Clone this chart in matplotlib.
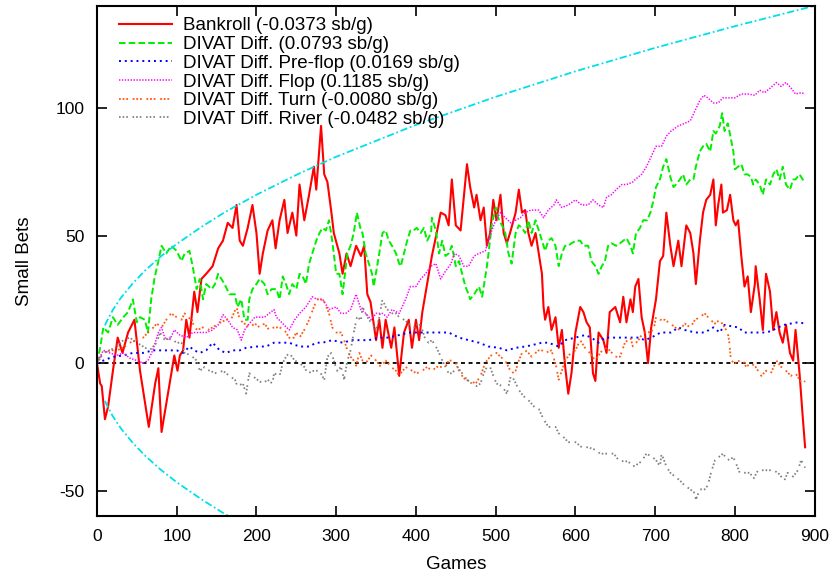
import matplotlib
matplotlib.use("Agg")
import matplotlib.pyplot as plt

plt.rcParams['font.family'] = ['Liberation Sans', 'DejaVu Sans']
plt.rcParams['axes.unicode_minus'] = False

# cumulative winnings, small bets, sampled along the match
bank_g = [0, 4, 6, 10, 14, 20, 26, 32, 39, 47, 54, 60, 65, 73, 77, 81, 89, 97, 101, 104,
          108, 112, 116, 122, 126, 131, 137, 145, 152, 158, 164, 170, 175, 179, 183, 189, 195, 200, 204, 208,
          214, 220, 224, 229, 235, 239, 245, 250, 254, 260, 266, 272, 275, 281, 285, 289, 294, 297, 304, 308,
          313, 318, 325, 331, 335, 339, 343, 350, 354, 358, 362, 369, 373, 379, 385, 391, 395, 400, 404, 408,
          414, 420, 426, 431, 437, 441, 445, 450, 456, 460, 464, 468, 473, 476, 481, 485, 489, 493, 497, 501,
          506, 510, 514, 518, 525, 529, 533, 537, 541, 545, 550, 554, 558, 560, 562, 566, 570, 575, 579, 583,
          587, 591, 595, 600, 606, 610, 614, 618, 622, 625, 629, 635, 639, 643, 650, 656, 660, 664, 669, 672,
          675, 679, 683, 687, 691, 695, 701, 706, 710, 714, 719, 723, 729, 733, 739, 744, 748, 751, 756, 760,
          764, 769, 773, 776, 779, 783, 785, 790, 794, 798, 801, 804, 808, 812, 816, 820, 825, 826, 831, 835,
          839, 844, 848, 852, 856, 860, 864, 869, 873, 876, 881, 885, 888]
bank_v = [0, -8, -9, -22, -17, -3, 10, 4, 12, 17, -3, -15, -25, -8, -2, -27, -12, 3, -3, 3,
          5, 17, 10, 28, 20, 33, 35, 38, 45, 48, 55, 53, 62, 48, 46, 53, 62, 51, 35, 43,
          52, 56, 45, 56, 64, 51, 59, 50, 70, 56, 66, 77, 68, 93, 74, 71, 59, 51, 43, 35,
          43, 38, 46, 42, 46, 27, 24, 9, 17, 6, 17, 6, 14, -5, 12, 17, 6, 17, 9, 20,
          31, 42, 51, 59, 58, 54, 72, 54, 52, 65, 78, 69, 61, 66, 56, 61, 46, 51, 64, 56,
          66, 51, 47, 51, 59, 68, 59, 60, 51, 46, 51, 43, 35, 22, 17, 22, 13, 18, 6, 13,
          -1, -12, -4, 12, 22, 20, 16, 14, -4, -7, 12, 9, 4, 20, 22, 16, 26, 16, 25, 20,
          30, 33, 18, 12, 0, 14, 25, 40, 42, 59, 46, 38, 48, 38, 54, 51, 43, 31, 48, 59,
          64, 66, 72, 54, 62, 70, 59, 60, 66, 56, 54, 56, 42, 30, 34, 20, 31, 38, 25, 13,
          35, 28, 13, 20, 12, 8, 15, 4, 1, 13, -4, -21, -33]

divat_g = [0, 4, 8, 14, 20, 26, 33, 39, 45, 50, 54, 60, 64, 68, 72, 77, 81, 87, 93, 100,
           106, 110, 116, 120, 125, 129, 133, 137, 144, 148, 152, 156, 160, 166, 173, 176, 181, 185, 189, 191,
           195, 200, 204, 210, 214, 219, 225, 229, 233, 237, 241, 245, 250, 254, 258, 262, 266, 270, 275, 279,
           283, 287, 291, 295, 300, 304, 308, 314, 318, 322, 326, 331, 333, 337, 341, 345, 347, 354, 358, 362,
           366, 370, 375, 379, 381, 385, 389, 393, 397, 401, 406, 410, 414, 419, 420, 425, 429, 433, 437, 441,
           445, 450, 454, 458, 462, 466, 468, 473, 479, 483, 489, 491, 495, 500, 504, 508, 512, 516, 520, 525,
           529, 533, 537, 541, 545, 550, 554, 558, 562, 566, 570, 575, 579, 583, 587, 591, 595, 601, 606, 610,
           616, 620, 625, 629, 633, 637, 641, 645, 651, 656, 660, 664, 669, 672, 676, 681, 685, 690, 694, 698,
           701, 706, 710, 714, 719, 723, 726, 731, 735, 739, 744, 748, 751, 756, 760, 764, 769, 773, 776, 781,
           784, 787, 791, 793, 798, 800, 804, 808, 812, 816, 820, 823, 826, 831, 835, 839, 844, 848, 852, 856,
           860, 864, 869, 873, 876, 881, 885, 888]
divat_v = [0, 6, 14, 12, 18, 15, 18, 20, 25, 16, 18, 17, 12, 25, 33, 40, 46, 43, 46, 44,
           40, 43, 44, 38, 29, 33, 25, 31, 29, 31, 35, 33, 31, 27, 27, 22, 25, 17, 17, 25,
           29, 31, 33, 31, 27, 29, 29, 25, 34, 31, 27, 31, 29, 35, 34, 31, 39, 43, 48, 51,
           53, 52, 56, 48, 35, 35, 27, 43, 46, 51, 59, 52, 51, 43, 39, 35, 30, 43, 51, 52,
           48, 46, 43, 39, 38, 43, 48, 52, 52, 53, 51, 53, 48, 51, 57, 52, 43, 48, 42, 43,
           46, 38, 40, 35, 30, 27, 25, 27, 30, 26, 38, 43, 54, 61, 56, 54, 51, 43, 39, 51,
           54, 53, 51, 56, 51, 56, 52, 48, 44, 48, 49, 46, 38, 43, 46, 46, 47, 48, 48, 46,
           46, 40, 38, 35, 38, 40, 46, 47, 46, 47, 48, 49, 46, 43, 51, 53, 56, 56, 59, 64,
           69, 72, 77, 80, 73, 69, 70, 72, 74, 70, 72, 72, 77, 83, 85, 86, 83, 91, 90, 93,
           98, 91, 94, 91, 83, 76, 77, 78, 74, 74, 73, 70, 72, 70, 66, 72, 70, 74, 76, 72,
           77, 70, 68, 72, 72, 74, 72, 71]

pre_g = [0, 8, 20, 33, 45, 58, 70, 79, 91, 100, 108, 116, 122, 129, 137, 145, 154, 162, 170, 179,
         187, 200, 212, 222, 229, 241, 254, 266, 275, 283, 295, 308, 320, 331, 341, 354, 366, 379, 391, 404,
         416, 429, 441, 454, 466, 479, 491, 504, 514, 525, 537, 545, 558, 566, 579, 587, 600, 612, 620, 629,
         637, 650, 662, 672, 679, 687, 695, 707, 720, 729, 737, 750, 762, 773, 781, 787, 795, 804, 812, 820,
         829, 837, 845, 854, 862, 870, 879, 888]
pre_v = [0, 1, 2.5, 3, 4, 4, 5, 5, 5, 5, 4, 6.5, 5, 4, 5, 8, 5, 4, 5, 5,
         6, 6.5, 6.5, 8, 8, 8, 6.5, 6.5, 8, 8, 9, 8, 9, 9, 9, 10, 10, 11, 12, 12,
         12, 12, 12, 10, 9, 8, 6.5, 6, 5, 6, 6.5, 7, 8, 8, 6.5, 9, 10, 11, 10, 8,
         10, 10, 10, 10, 10, 9, 10, 12, 12, 14, 13, 12, 12, 14, 12, 15, 14.5, 14, 12, 12,
         12, 12, 12.5, 14, 15, 15.5, 16, 15.5]

flop_g = [0, 8, 16, 25, 33, 41, 50, 58, 64, 70, 77, 81, 85, 91, 97, 104, 112, 120, 129, 137,
          145, 152, 158, 164, 170, 176, 181, 185, 191, 198, 204, 210, 216, 222, 225, 233, 241, 248, 254, 262,
          270, 276, 283, 291, 300, 306, 312, 318, 325, 331, 337, 344, 350, 358, 364, 370, 379, 387, 393, 400,
          406, 412, 419, 425, 431, 437, 444, 448, 454, 460, 466, 473, 479, 487, 494, 500, 506, 512, 519, 525,
          531, 537, 544, 550, 554, 560, 566, 573, 576, 583, 591, 600, 608, 616, 622, 629, 635, 639, 645, 651,
          658, 664, 672, 675, 683, 689, 695, 701, 708, 714, 720, 729, 737, 744, 750, 756, 761, 766, 773, 779,
          785, 791, 800, 808, 816, 825, 831, 837, 845, 852, 858, 864, 870, 876, 883, 888]
flop_v = [0, 5, 4, 3, 4, 2, 1, 0, 1, 5, 12, 14, 10, 9, 13, 11, 10, 12, 12, 12,
          13, 15, 19, 17, 14, 13, 9, 13, 15.5, 18, 18, 18, 19.5, 21, 18, 15.5, 13, 17, 19.5, 22,
          26, 25, 25, 21, 22, 19.5, 19.5, 21, 27, 21, 19.5, 17, 19.5, 19.5, 18, 21, 19.5, 25, 30, 30,
          33, 35, 38, 39, 33, 36, 39, 43, 42, 38, 38, 42, 43, 44, 51, 56, 59, 57, 55, 56,
          57, 59, 60, 60, 60, 57, 60, 62, 64, 61, 62, 64, 62, 62, 64, 62, 61, 65, 66, 68,
          70, 70, 71, 72, 74, 77, 81, 85, 85, 89, 91, 93, 94, 95, 99, 103, 105, 104, 102, 102,
          104, 104, 104, 105.5, 105.5, 105, 107, 106, 108, 110, 108.5, 110, 108, 105.5, 106, 105.5]

turn_g = [0, 8, 16, 25, 33, 41, 50, 58, 64, 68, 75, 81, 87, 93, 100, 106, 110, 114, 119, 122,
          126, 133, 139, 145, 152, 162, 168, 175, 179, 185, 191, 198, 204, 210, 216, 222, 229, 235, 241, 245,
          250, 254, 260, 266, 272, 276, 281, 285, 291, 295, 300, 306, 310, 314, 318, 322, 325, 329, 333, 337,
          344, 350, 356, 362, 369, 375, 379, 383, 389, 395, 401, 408, 414, 420, 426, 433, 437, 441, 445, 450,
          454, 458, 462, 468, 475, 481, 485, 489, 493, 497, 501, 506, 512, 516, 520, 525, 529, 533, 537, 541,
          545, 550, 554, 558, 562, 570, 576, 579, 583, 587, 594, 600, 606, 612, 618, 625, 631, 637, 643, 650,
          656, 662, 669, 672, 679, 685, 691, 698, 701, 706, 712, 719, 725, 731, 737, 744, 750, 756, 762, 769,
          775, 781, 787, 791, 793, 795, 800, 806, 810, 814, 820, 826, 833, 839, 845, 852, 858, 864, 870, 876,
          881, 885, 888]
turn_v = [0, 4, 5, 5, 6, 8, 9, 10, 12, 13, 15.5, 14, 17, 19.5, 18, 17, 19.5, 18, 17, 14,
          13, 14, 13, 14, 15.5, 17, 17, 22, 17, 15.5, 14, 15.5, 14, 15.5, 13, 14, 14, 13, 10, 9,
          12, 10, 13, 17, 22, 25, 25, 24, 19.5, 14, 12, 12, 9, 5, 2.5, 1, -1, 4, 1, 0,
          3, 1, -1.5, 1, -1.5, -3, -5, -3, -1.5, -3, -4, -3, -1.5, -3, -1.5, -1.5, -1.5, 1, 1, 0,
          -3, -5, -6.5, -7, -8, -5, -1.5, 1, 2.5, 4, 4, 2.5, 1, -1.5, -4, -3, 1, 4, 5, 4,
          2.5, 4, 5, 5, 4, 5, -1.5, -6.5, -3, 1, 4, 5, 9, 6, 4, 1, 4, 6, 5, 2.5,
          2.5, 8, 10, 6.5, 9, 12, 12, 13, 18, 17, 17, 15.5, 14, 13, 15.5, 14, 17, 18, 19.5, 17,
          15.5, 17, 14, 12, 8, 1, 0, 1, 1, -1.5, 0, -1.5, -5, -3, -4, 1, -1.5, -3, -5, -4,
          -6.5, -8, -7]

river_g = [0, 8, 16, 25, 33, 41, 50, 58, 66, 75, 79, 85, 91, 100, 106, 110, 118, 125, 129, 135,
           141, 150, 158, 166, 173, 176, 183, 187, 191, 195, 201, 208, 214, 220, 222, 229, 233, 237, 241, 248,
           254, 260, 264, 272, 279, 285, 289, 294, 297, 301, 306, 310, 314, 318, 322, 326, 331, 333, 337, 341,
           345, 350, 354, 358, 362, 368, 375, 379, 385, 391, 397, 404, 408, 412, 416, 420, 425, 429, 433, 437,
           441, 445, 452, 458, 464, 470, 476, 481, 485, 489, 493, 497, 501, 508, 514, 519, 523, 529, 535, 541,
           548, 554, 560, 566, 575, 579, 585, 591, 600, 608, 616, 625, 631, 639, 648, 654, 660, 666, 672, 676,
           683, 689, 695, 701, 706, 708, 714, 719, 725, 731, 737, 744, 750, 751, 756, 762, 766, 770, 775, 779,
           785, 791, 798, 801, 806, 812, 819, 823, 829, 835, 841, 848, 854, 858, 862, 866, 873, 879, 883, 888]
river_v = [0, 4, 5, 6.5, 9, 10, 8, 6.5, 5, 8, 12, 9, 10, 8, 8, 4, 3, 1, -3, -1.5,
           -3, -4, -3, -5, -6.5, -9, -8, -12, -4, -5, -6.5, -8, -6.5, -8, -4, -5, 0, 2.5, 4, 1,
           0, -1.5, -4, -3, -3, -6.5, 2.5, 4, 1, -3, -1.5, -6.5, 1, 5, 12, 18, 17, 22, 19.5, 17,
           15.5, 13, 18, 25, 22, 19.5, 19.5, 18, 17, 15.5, 14, 15.5, 13, 9, 8, 9, 6.5, 4, 1, -1.5,
           -4, -4, -1.5, -4, -6.5, -8, -9, -8, -4, -1.5, -1.5, -5, -8, -9, -12, -5, -6.5, -10.5, -13, -14.5,
           -17, -18, -22, -25, -25, -27.5, -29, -31, -31, -33, -33, -34, -35.5, -35.5, -35.5, -38, -38.5, -38.5, -40.5, -40,
           -38.5, -35.5, -36.5, -38, -40.5, -35.5, -40.5, -43, -44.5, -46, -48, -49.5, -51, -53.5, -49.5, -49.5, -48, -43, -38, -37,
           -35.5, -38, -37, -39, -43, -43, -43, -45.5, -42, -42, -42, -42, -43, -44.5, -46, -43, -44.5, -42, -38, -41]

# significance envelope (drawn as +/-)
bound_g = [10, 12, 20, 30, 45, 60, 80, 100, 130, 160, 200, 250, 300, 400, 500, 600, 700, 800, 900]
bound_v = [14.8, 16.2, 20.9, 25.6, 31.3, 36.2, 41.8, 46.7, 53.2, 59.1, 66.0, 73.8, 80.9, 93.4,
           104.4, 114.4, 123.6, 132.1, 140.1]

labels = ['Bankroll (-0.0373 sb/g)',
          'DIVAT Diff. (0.0793 sb/g)',
          'DIVAT Diff. Pre-flop (0.0169 sb/g)',
          'DIVAT Diff. Flop (0.1185 sb/g)',
          'DIVAT Diff. Turn (-0.0080 sb/g)',
          'DIVAT Diff. River (-0.0482 sb/g)']

fig = plt.figure(figsize=(8.33, 5.78), dpi=100)
ax = fig.add_axes([0.1164, 0.107, 0.8616, 0.8826])

ax.plot(bank_g, bank_v, color='#ff0000', lw=1.5, label=labels[0])
ax.plot(divat_g, divat_v, color='#00ee00', lw=1.4, dashes=(3.4, 1.6), label=labels[1])
ax.plot(pre_g, pre_v, color='#0000ff', lw=1.4, dashes=(1.0, 2.0), label=labels[2])
ax.plot(flop_g, flop_v, color='#ff00ff', lw=1.1, dashes=(0.9, 1.0), label=labels[3])
ax.plot(turn_g, turn_v, color='#ff5a10', lw=1.3, dashes=(1.0, 1.0, 1.0, 1.0, 1.0, 2.6), label=labels[4])
ax.plot(river_g, river_v, color='#808080', lw=1.3, dashes=(0.9, 1.1, 0.9, 1.1, 0.9, 2.6), label=labels[5])

ax.axhline(0, color='black', lw=1.3, dashes=(2.2, 2.0), zorder=1)
ax.plot(bound_g, bound_v, color='#00e0e8', lw=1.3, dashes=(4.0, 1.5, 1.0, 1.5))
ax.plot(bound_g, [-b for b in bound_v], color='#00e0e8', lw=1.3, dashes=(4.0, 1.5, 1.0, 1.5))

ax.set_xlim(0, 900)
ax.set_ylim(-60, 140)
ax.set_xticks(range(0, 901, 100))
ax.set_yticks([-50, 0, 50, 100])
ax.tick_params(direction='in', length=7, width=1.2, top=True, right=True, labelsize=12.5, pad=9)
for s in ax.spines.values():
    s.set_linewidth(1.5)

ax.set_xlabel('Games', fontsize=13.5, labelpad=9)
ax.set_ylabel('Small Bets', fontsize=13.5, labelpad=16)

ax.legend(loc='upper left', bbox_to_anchor=(0.031, 0.978), frameon=False, fontsize=13.5,
          handlelength=2.8, handletextpad=0.6, labelspacing=0.085, borderpad=0, borderaxespad=0)

fig.savefig('out.png', dpi=100)
